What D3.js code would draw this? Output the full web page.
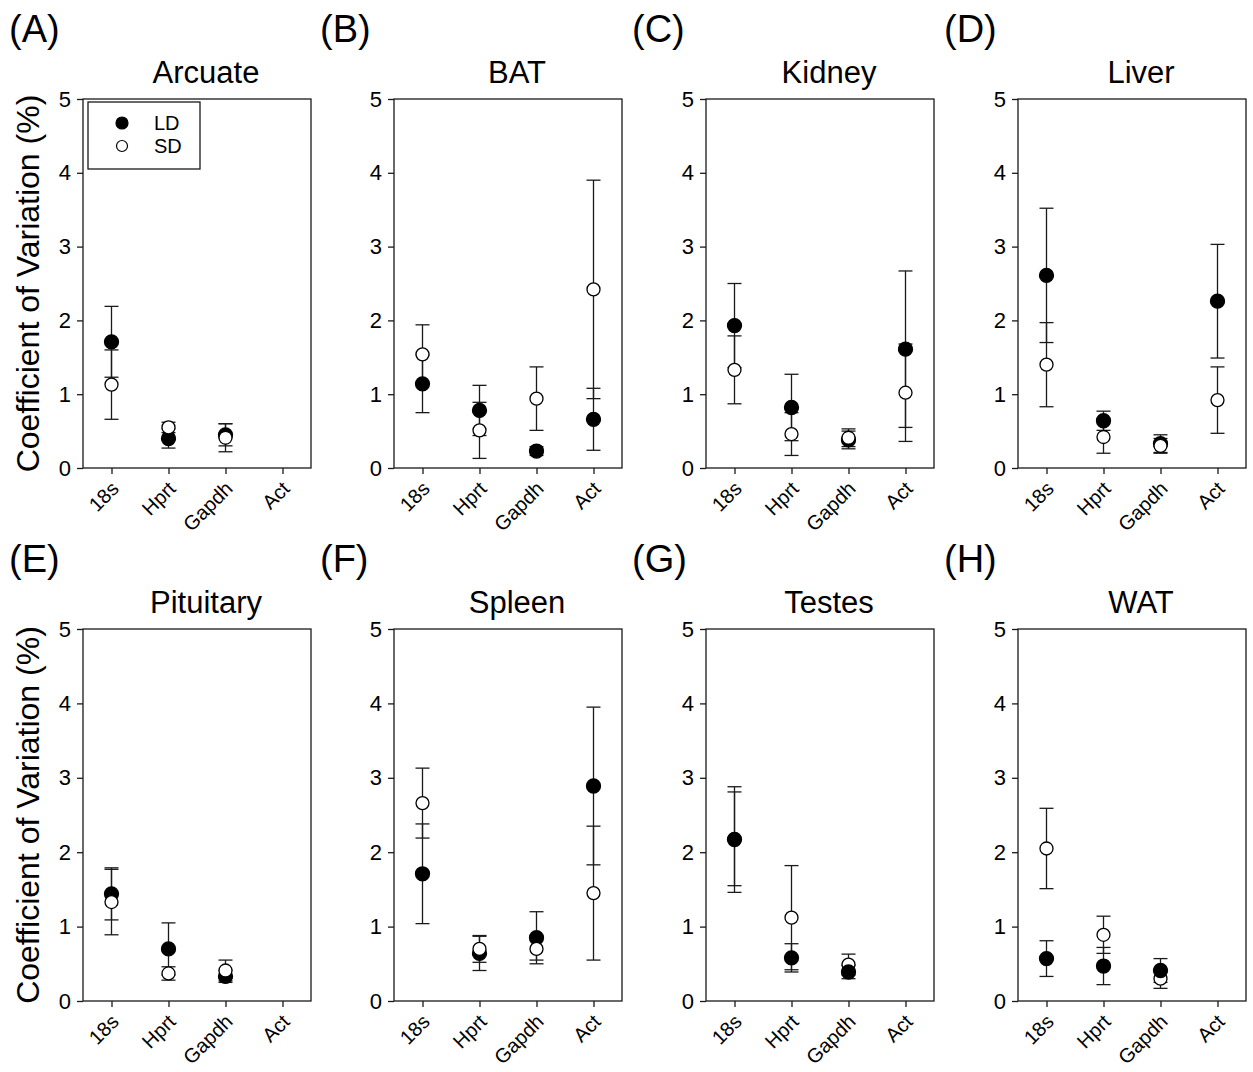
<!DOCTYPE html>
<html>
<head>
<meta charset="utf-8">
<script src="https://cdn.jsdelivr.net/npm/d3@7/dist/d3.min.js"></script>
<style>
  body { margin: 0; background: #fff; }
  text { font-family: "Liberation Sans", Arial, sans-serif; fill: #000; }
</style>
</head>
<body>
<div id="chart"></div>
<script>
// gene categories on the x axis
const genes = ["18s", "Hprt", "Gapdh", "Act"];
const tissues = ["Arcuate", "BAT", "Kidney", "Liver", "Pituitary", "Spleen", "Testes", "WAT"];
const letters = ["(A)", "(B)", "(C)", "(D)", "(E)", "(F)", "(G)", "(H)"];
const yTicks = [0, 1, 2, 3, 4, 5];

// long day (filled) means and error, one row per tissue
const ldMean = [
  [1.71, 0.40, 0.45, null],
  [1.14, 0.78, 0.23, 0.66],
  [1.93, 0.82, 0.38, 1.61],
  [2.61, 0.64, 0.33, 2.26],
  [1.44, 0.70, 0.33, null],
  [1.71, 0.64, 0.85, 2.89],
  [2.17, 0.58, 0.39, null],
  [0.57, 0.47, 0.41, null]
];
const ldErr = [
  [0.48, 0.13, 0.15, null],
  [0.39, 0.34, 0.06, 0.42],
  [0.57, 0.45, 0.12, 1.06],
  [0.91, 0.13, 0.12, 0.77],
  [0.35, 0.35, 0.08, null],
  [0.67, 0.23, 0.35, 1.06],
  [0.71, 0.19, 0.09, null],
  [0.24, 0.25, 0.16, null]
];
// short day (open) means and error
const sdMean = [
  [1.13, 0.55, 0.41, null],
  [1.54, 0.51, 0.94, 2.42],
  [1.33, 0.46, 0.41, 1.02],
  [1.40, 0.42, 0.30, 0.92],
  [1.33, 0.37, 0.41, null],
  [2.66, 0.70, 0.70, 1.45],
  [2.18, 1.12, 0.49, null],
  [2.05, 0.89, 0.30, null]
];
const sdErr = [
  [0.47, 0.07, 0.19, null],
  [0.40, 0.38, 0.43, 1.48],
  [0.46, 0.29, 0.12, 0.66],
  [0.57, 0.22, 0.10, 0.45],
  [0.44, 0.09, 0.14, null],
  [0.47, 0.18, 0.15, 0.90],
  [0.63, 0.70, 0.14, null],
  [0.54, 0.25, 0.13, null]
];
// panels where the filled markers sit on top
const ldOnTop = ["Testes", "WAT"];

var W = 1253, H = 1072;
var plotW = 228;
var lefts = [83, 394, 706, 1018];
var tops = [99, 629], bottoms = [468, 1001];
var lineColor = "#1a1a1a";

var svg = d3.select("#chart").append("svg")
  .attr("width", W)
  .attr("height", H);

svg.append("rect").attr("width", W).attr("height", H).attr("fill", "#fff");

tissues.forEach(function (tissue, p) {
  var row = Math.floor(p / 4), col = p % 4;
  var top = tops[row], bottom = bottoms[row], left = lefts[col];
  var plotH = bottom - top;

  var g = svg.append("g").attr("transform", "translate(" + left + "," + top + ")");

  var x = d3.scalePoint().domain(genes).range([0, plotW]).padding(0.5);
  var y = d3.scaleLinear().domain([0, 5]).range([plotH, 0]);

  // panel letter and title
  svg.append("text")
    .attr("x", left - 74)
    .attr("y", top - 57)
    .style("font-size", "38px")
    .text(letters[p]);

  g.append("text")
    .attr("x", plotW / 2 + 9)
    .attr("y", -16)
    .attr("text-anchor", "middle")
    .style("font-size", "31px")
    .text(tissue);

  // y axis
  var yAxis = g.append("g")
    .call(d3.axisLeft(y).tickValues(yTicks).tickSize(6).tickPadding(6).tickFormat(d3.format("d")));
  yAxis.select(".domain").remove();
  yAxis.selectAll("line").attr("stroke", lineColor).attr("stroke-width", 1.3);
  yAxis.selectAll("text").style("font-size", "22px").attr("fill", "#000");

  // x axis
  var xAxis = g.append("g")
    .attr("transform", "translate(0," + plotH + ")")
    .call(d3.axisBottom(x).tickSize(6));
  xAxis.select(".domain").remove();
  xAxis.selectAll("line").attr("stroke", lineColor).attr("stroke-width", 1.3);
  xAxis.selectAll("text")
    .style("font-size", "20px")
    .attr("fill", "#000")
    .style("text-anchor", "end")
    .attr("x", 0)
    .attr("y", 0)
    .attr("dy", "0.35em")
    .attr("transform", "translate(3,17) rotate(-45)");

  // frame
  g.append("rect")
    .attr("width", plotW)
    .attr("height", plotH)
    .attr("fill", "none")
    .attr("stroke", lineColor)
    .attr("stroke-width", 1.3);

  // y axis label on the left column
  if (col === 0) {
    svg.append("text")
      .attr("transform", "translate(" + (left - 44) + "," + (top + plotH / 2) + ") rotate(-90)")
      .attr("text-anchor", "middle")
      .style("font-size", "32px")
      .text("Coefficient of Variation (%)");
  }

  function series(means, errs) {
    var pts = genes.map(function (gname, i) {
      return { gene: gname, v: means[p][i], e: errs[p][i] };
    }).filter(function (d) { return d.v !== null; });

    var eb = g.append("g");
    eb.selectAll("line.stem").data(pts).enter().append("line")
      .attr("x1", function (d) { return x(d.gene); })
      .attr("x2", function (d) { return x(d.gene); })
      .attr("y1", function (d) { return y(d.v + d.e); })
      .attr("y2", function (d) { return y(d.v - d.e); })
      .attr("stroke", lineColor).attr("stroke-width", 1.3);
    [1, -1].forEach(function (s) {
      eb.selectAll("line.cap" + s).data(pts).enter().append("line")
        .attr("x1", function (d) { return x(d.gene) - 7; })
        .attr("x2", function (d) { return x(d.gene) + 7; })
        .attr("y1", function (d) { return y(d.v + s * d.e); })
        .attr("y2", function (d) { return y(d.v + s * d.e); })
        .attr("stroke", lineColor).attr("stroke-width", 1.3);
    });
    return pts;
  }

  function markers(pts, filled) {
    g.append("g").selectAll("circle").data(pts).enter().append("circle")
      .attr("cx", function (d) { return x(d.gene); })
      .attr("cy", function (d) { return y(d.v); })
      .attr("r", filled ? 7 : 6.5)
      .attr("fill", filled ? "#000" : "#fff")
      .attr("stroke", "#000")
      .attr("stroke-width", 1.3);
  }

  var ldPts = series(ldMean, ldErr);
  var sdPts = series(sdMean, sdErr);
  if (ldOnTop.indexOf(tissue) >= 0) {
    markers(sdPts, false);
    markers(ldPts, true);
  } else {
    markers(ldPts, true);
    markers(sdPts, false);
  }

  // legend in the first panel
  if (p === 0) {
    var lg = g.append("g").attr("transform", "translate(5,3)");
    lg.append("rect")
      .attr("width", 112).attr("height", 67)
      .attr("fill", "#fff").attr("stroke", lineColor).attr("stroke-width", 1.3);
    [["LD", true], ["SD", false]].forEach(function (item, i) {
      lg.append("circle")
        .attr("cx", 34).attr("cy", 21 + i * 23)
        .attr("r", item[1] ? 6 : 5.5)
        .attr("fill", item[1] ? "#000" : "#fff")
        .attr("stroke", "#000").attr("stroke-width", 1.2);
      lg.append("text")
        .attr("x", 66).attr("y", 21 + i * 23)
        .attr("dy", "0.35em")
        .style("font-size", "20px")
        .text(item[0]);
    });
  }
});
</script>
</body>
</html>
